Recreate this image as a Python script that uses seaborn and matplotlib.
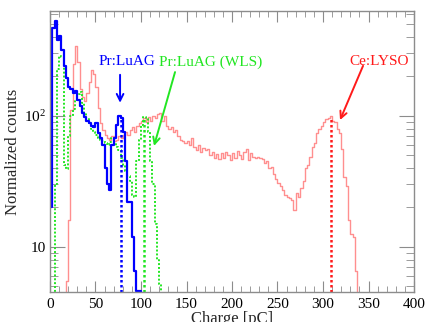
import numpy as np
import pandas as pd
import matplotlib
matplotlib.use("Agg")
import matplotlib.pyplot as plt
import matplotlib.ticker as mticker
import seaborn as sns

# ---------------- data (bin width 2.5 pC) ----------------
bin_width = 2.5

# Pr:LuAG (blue), bins start at 0 pC
luag_start = 0.0
luag_counts = [20, 470, 530, 380, 410, 320, 240, 195, 165, 160,
               150, 155, 132, 118, 105, 98, 92, 88, 84, 82,
               88, 74, 68, 60, 40, 30, 27, 60, 68, 85,
               100, 96, 75, 45, 22, 22, 12, 6.5, 4.6, 4.6, 1]

# Pr:LuAG (WLS) (green), bins start at 0 pC
wls_start = 0.0
wls_counts = [1, 1, 30, 230, 285, 280, 42, 39, 70, 100,
              112, 132, 148, 152, 125, 105, 95, 88, 80, 75,
              72, 68, 66, 64, 62, 60, 63, 68, 62, 58,
              55, 48, 42, 38, 35, 32, 25, 24, 45, 65,
              85, 98, 95, 75, 45, 30, 15, 8, 5.2, 1]

# Ce:LYSO (red), bins start at 15 pC
lyso_start = 15.0
lyso_counts = [1, 5.5, 16, 110, 250, 340, 260, 160, 140, 130,
               150, 180, 225, 210, 165, 115, 88, 78, 72, 68,
               66, 70, 64, 66, 70, 68, 72, 76, 72, 78,
               82, 76, 84, 88, 92, 96, 90, 98, 92, 100,
               96, 104, 106, 92, 100, 84, 80, 82, 76, 78,
               70, 66, 64, 62, 64, 60, 68, 58, 55, 60,
               53, 57, 55, 56, 50, 53, 48, 51, 47, 52,
               48, 53, 50, 46, 52, 48, 54, 50, 47, 53,
               56, 46, 52, 49, 48, 49, 48, 47, 44, 45,
               40, 41, 36, 33, 31, 29, 27, 25, 24, 23.5,
               23, 19, 26, 24, 28, 32, 40, 42, 49, 58,
               62, 74, 80, 84, 90, 94, 97, 100, 92, 90,
               80, 74, 56, 34, 29, 16, 12.5, 12, 6.5, 1]

# photopeak markers (dotted vertical lines)
peak_names = ["Pr:LuAG", "Pr:LuAG (WLS)", "Ce:LYSO"]
peak_pos = [78.3, 103.3, 308.5]
peak_height = [97, 94, 97]

# annotation labels: text position, arrow start, arrow tip
label_xy = [(84.6, 258), (177, 258), (361.5, 258)]
arrow_from = [(77, 206), (137.4, 216), (344, 241)]
arrow_to = [(77, 126), (114.3, 59), (318.7, 93)]

xticks = [0, 50, 100, 150, 200, 250, 300, 350, 400]

# ---------------- styling ----------------
sns.set_style("ticks")
plt.rcParams["font.family"] = ["Liberation Serif", "DejaVu Serif"]
plt.rcParams["mathtext.fontset"] = "custom"
plt.rcParams["mathtext.rm"] = "Liberation Serif"
plt.rcParams["mathtext.it"] = "Liberation Serif:italic"

blue = "#0000ff"
green = "#22e622"
red_line = "#ff8f8f"
red = "#ff1a1a"
frame = "#8c8c8c"

fig = plt.figure(figsize=(4.27, 3.22), dpi=100)
ax = fig.add_axes([50 / 427, 30 / 322, 364 / 427, 281 / 322])


def make_df(start, counts):
    counts = np.asarray(counts, dtype=float)
    edges = start + bin_width * np.arange(len(counts) + 1)
    centers = 0.5 * (edges[:-1] + edges[1:])
    return pd.DataFrame({"charge": centers, "counts": counts}), list(edges)


df_lyso, e_lyso = make_df(lyso_start, lyso_counts)
df_luag, e_luag = make_df(luag_start, luag_counts)
df_wls, e_wls = make_df(wls_start, wls_counts)

sns.histplot(data=df_lyso, x="charge", weights="counts", bins=e_lyso,
             element="step", fill=False, color=red_line, linewidth=1.0, ax=ax)
sns.histplot(data=df_wls, x="charge", weights="counts", bins=e_wls,
             element="step", fill=False, color=green, linewidth=1.4,
             linestyle=(0, (1, 1)), ax=ax)
sns.histplot(data=df_luag, x="charge", weights="counts", bins=e_luag,
             element="step", fill=False, color=blue, linewidth=1.6, ax=ax)

ax.set_yscale("log")
ymin, ymax = 4.53, 632
ax.set_xlim(0, 400)
ax.set_ylim(ymin, ymax)

# dotted photopeak lines
line_cols = [blue, green, red]
for xpos, h, c in zip(peak_pos, peak_height, line_cols):
    ax.vlines(xpos, ymin, h, colors=c, linestyles=(0, (1, 1)), linewidth=1.8)

# labels and arrows
for name, txy, a0, a1, c in zip(peak_names, label_xy, arrow_from, arrow_to,
                               [blue, green, red]):
    ax.text(txy[0], txy[1], name, color=c, fontsize=11, ha="center",
            va="center")
    ax.annotate("", xy=a1, xytext=a0,
                arrowprops=dict(arrowstyle="->", color=c, lw=1.4,
                                mutation_scale=12, shrinkA=0, shrinkB=0))

# axes
ax.set_xticks(xticks)
ax.xaxis.set_minor_locator(mticker.MultipleLocator(10))
ax.yaxis.set_major_locator(mticker.FixedLocator([10, 100]))
ax.yaxis.set_major_formatter(mticker.FixedFormatter(["10", r"$10^{2}$"]))
ax.yaxis.set_minor_locator(mticker.LogLocator(base=10, subs=np.arange(2, 10)))
ax.yaxis.set_minor_formatter(mticker.NullFormatter())

ax.tick_params(which="both", direction="in", top=True, right=True,
               color=frame, labelsize=11, labelcolor="black")
ax.tick_params(axis="x", which="major", length=8, pad=4)
ax.tick_params(axis="x", which="minor", length=4)
ax.tick_params(axis="y", which="major", length=11, pad=3)
ax.tick_params(axis="y", which="minor", length=6)
for s in ax.spines.values():
    s.set_color(frame)
    s.set_linewidth(1.0)
    s.set_visible(True)

ax.set_xlabel("Charge [pC]", fontsize=12, labelpad=0)
ax.set_ylabel("Normalized counts", fontsize=12, labelpad=2)

fig.savefig("out.png", dpi=100)
